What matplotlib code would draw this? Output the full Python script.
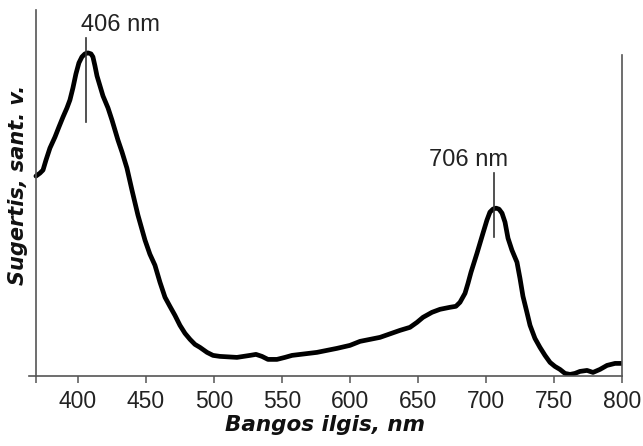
import matplotlib
matplotlib.use("Agg")
import matplotlib.pyplot as plt

# spektras (nuskaityta nuo paveikslo)
bangos = [369.1, 372.1, 374.3, 376.5, 379.4, 383.1, 386.0, 389.0, 391.9, 394.1,
          396.3, 398.5, 400.7, 402.9, 405.1, 407.4, 409.6, 411.0, 412.5, 414.0,
          416.2, 418.4, 422.1, 425.0, 427.2, 429.4, 432.4, 436.0, 439.7, 444.1,
          449.3, 452.9, 456.6, 460.3, 464.0, 467.6, 471.3, 475.0, 478.7, 482.4,
          486.0, 489.7, 494.9, 499.3, 504.4, 516.9, 526.5, 530.9, 535.3, 539.7,
          546.3, 552.2, 557.4, 575.7, 590.4, 600.0, 607.4, 622.1, 636.8, 644.1,
          649.3, 653.7, 660.3, 666.2, 673.5, 677.9, 680.9, 684.6, 686.8, 689.0,
          693.4, 697.8, 700.7, 702.9, 705.1, 707.4, 709.6, 711.8, 714.0, 716.2,
          719.1, 722.8, 725.0, 727.2, 730.1, 732.4, 736.0, 739.7, 743.4, 747.1,
          750.7, 754.4, 758.1, 761.8, 765.4, 769.1, 774.3, 778.7, 783.8, 789.0,
          794.9, 800.0]
sugertis = [2.00, 2.03, 2.06, 2.16, 2.28, 2.39, 2.49, 2.59, 2.68, 2.76,
            2.88, 3.02, 3.13, 3.19, 3.22, 3.23, 3.22, 3.19, 3.10, 3.00,
            2.90, 2.80, 2.68, 2.56, 2.46, 2.36, 2.24, 2.08, 1.86, 1.61,
            1.36, 1.22, 1.11, 0.94, 0.79, 0.70, 0.61, 0.51, 0.43, 0.37,
            0.32, 0.29, 0.24, 0.21, 0.20, 0.19, 0.21, 0.22, 0.20, 0.17,
            0.17, 0.19, 0.21, 0.24, 0.28, 0.31, 0.35, 0.39, 0.46, 0.49,
            0.54, 0.59, 0.64, 0.67, 0.69, 0.70, 0.74, 0.83, 0.93, 1.04,
            1.23, 1.43, 1.56, 1.64, 1.67, 1.68, 1.67, 1.63, 1.54, 1.38,
            1.26, 1.14, 0.98, 0.80, 0.64, 0.51, 0.38, 0.29, 0.21, 0.14,
            0.10, 0.07, 0.03, 0.02, 0.03, 0.05, 0.06, 0.04, 0.07, 0.11,
            0.13, 0.13]

# smailes
smailes = [406, 706]
smailiu_tekstai = ['406 nm', '706 nm']
linijos_apacia = [2.54, 1.39]
linijos_virsus = [3.38, 2.03]
teksto_x = [431, 687]

xticks = [400, 450, 500, 550, 600, 650, 700, 750, 800]

fig = plt.figure(figsize=(6.43, 4.46), dpi=100)
ax = fig.add_axes([0.0451, 0.156, 0.9222, 0.822])

ax.plot(bangos, sugertis, color='black', linewidth=3.4, solid_joinstyle='round',
        solid_capstyle='round')

for x, t, y0, y1, tx in zip(smailes, smailiu_tekstai, linijos_apacia, linijos_virsus, teksto_x):
    ax.plot([x, x], [y0, y1], color='#333333', linewidth=1.2)
    ax.text(tx, y1 + 0.02, t, ha='center', va='bottom', fontsize=17,
            family='Liberation Sans', color='#222222')

ax.set_xlim(364, 800)
ax.set_ylim(0, 3.66)

ax.spines['top'].set_visible(False)
ax.spines['left'].set_position(('data', 369))
ax.spines['right'].set_bounds(0, 3.21)
for s in ['left', 'right', 'bottom']:
    ax.spines[s].set_color('#555555')
    ax.spines[s].set_linewidth(1.2)

ax.set_xticks(xticks)
ax.set_xticks([369], minor=True)
ax.set_yticks([])
ax.tick_params(axis='x', which='both', direction='out', length=5, width=1.1,
               color='#555555', pad=5)
for lab in ax.get_xticklabels():
    lab.set_family('Liberation Sans')
    lab.set_fontsize(16.5)
    lab.set_color('#222222')

ax.set_xlabel('Bangos ilgis, nm', fontsize=15.5, style='italic', weight='bold',
              family='DejaVu Sans', color='#111111', labelpad=1)
ax.set_ylabel('Sugertis, sant. v.', fontsize=15, style='italic', weight='bold',
              family='DejaVu Sans', color='#111111')
ax.yaxis.set_label_coords(-0.002, 0.522)

fig.savefig('out.png', dpi=100)
